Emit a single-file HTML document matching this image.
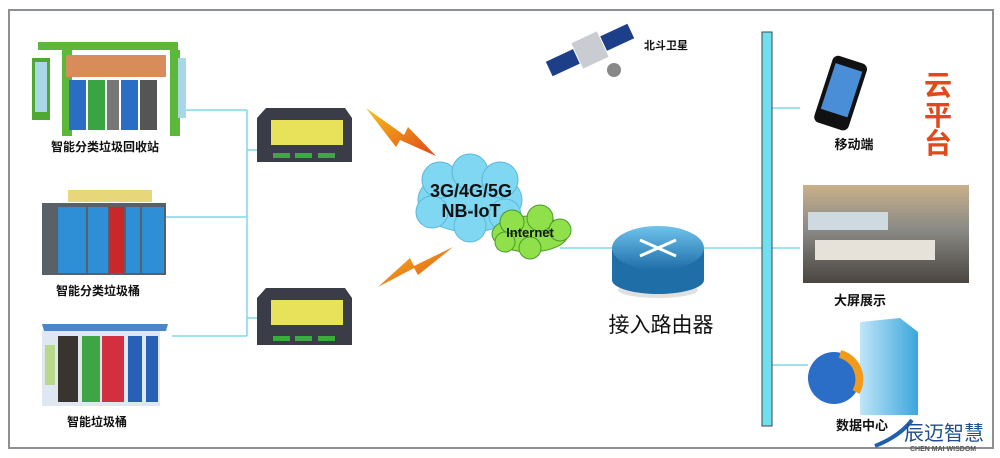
<!DOCTYPE html>
<html><head><meta charset="utf-8"><style>
html,body{margin:0;padding:0;background:#fff;width:1000px;height:458px;overflow:hidden}
svg{display:block}
text{font-family:"Liberation Sans","Noto Sans CJK SC",sans-serif}
</style></head><body>
<svg width="1000" height="458" viewBox="0 0 1000 458" xmlns="http://www.w3.org/2000/svg">
<defs>
<linearGradient id="bolt" x1="0" y1="0" x2="1" y2="1"><stop offset="0" stop-color="#f7c21a"/><stop offset="1" stop-color="#e0461a"/></linearGradient>
<linearGradient id="rt" x1="0" y1="0" x2="0" y2="1"><stop offset="0" stop-color="#6fc3ec"/><stop offset="1" stop-color="#1f6ea8"/></linearGradient>
<linearGradient id="room" x1="0" y1="0" x2="0" y2="1"><stop offset="0" stop-color="#c9b08a"/><stop offset="0.45" stop-color="#8a8a86"/><stop offset="1" stop-color="#4a4540"/></linearGradient>
<linearGradient id="srv" x1="0" y1="0" x2="1" y2="0"><stop offset="0" stop-color="#bfe6f8"/><stop offset="1" stop-color="#3aa6dc"/></linearGradient>
</defs>
<rect x="9" y="10" width="984" height="438" fill="#fff" stroke="#8c9094" stroke-width="2"/>

<!-- left connectors -->
<g stroke="#7fd8ee" stroke-width="1.5" fill="none">
<path d="M247 110 V336"/><path d="M183 110 H247"/><path d="M165 217 H247"/><path d="M172 336 H247"/>
<path d="M247 150 H257"/><path d="M247 318 H257"/>
</g>

<!-- station -->
<rect x="38" y="42" width="140" height="8" fill="#5cb83a"/>
<rect x="32" y="58" width="18" height="62" fill="#4ea832"/><rect x="35" y="62" width="12" height="50" fill="#a9d7e8"/>
<rect x="62" y="50" width="10" height="86" fill="#5cb83a"/><rect x="170" y="50" width="10" height="86" fill="#5cb83a"/>
<rect x="66" y="55" width="100" height="22" fill="#d88c5a"/><rect x="178" y="58" width="8" height="60" fill="#a9d7e8"/>
<rect x="69" y="80" width="17" height="50" fill="#2b6cc4"/><rect x="88" y="80" width="17" height="50" fill="#3aa442"/>
<rect x="107" y="80" width="12" height="50" fill="#777"/><rect x="121" y="80" width="17" height="50" fill="#2b6cc4"/>
<rect x="140" y="80" width="17" height="50" fill="#555"/>
<text x="105" y="151" font-size="12" font-weight="bold" text-anchor="middle" fill="#111">智能分类垃圾回收站</text>

<!-- smart bin -->
<rect x="68" y="190" width="84" height="12" fill="#e8d67a"/>
<rect x="42" y="203" width="124" height="72" fill="#5a6068"/>
<rect x="58" y="207" width="28" height="66" fill="#2f8fd6"/><rect x="88" y="207" width="20" height="66" fill="#2f8fd6"/>
<rect x="109" y="207" width="15" height="66" fill="#c8282a"/><rect x="126" y="207" width="14" height="66" fill="#2f8fd6"/>
<rect x="142" y="207" width="22" height="66" fill="#2f8fd6"/>
<text x="98" y="295" font-size="12" font-weight="bold" text-anchor="middle" fill="#111">智能分类垃圾桶</text>

<!-- smart trash -->
<path d="M42 324 L168 324 L166 331 L44 331Z" fill="#4a86c8"/>
<rect x="42" y="331" width="118" height="75" fill="#dfe8f0"/>
<rect x="58" y="336" width="20" height="66" fill="#3a3430"/><rect x="82" y="336" width="18" height="66" fill="#3ea444"/>
<rect x="102" y="336" width="22" height="66" fill="#d23040"/><rect x="128" y="336" width="14" height="66" fill="#2a5fb8"/>
<rect x="146" y="336" width="12" height="66" fill="#2a5fb8"/><rect x="45" y="345" width="10" height="40" fill="#b8d88a"/>
<text x="97" y="426" font-size="12" font-weight="bold" text-anchor="middle" fill="#111">智能垃圾桶</text>

<!-- devices -->
<g>
<path d="M266 108 L345 108 L352 118 L352 162 L257 162 L257 118Z" fill="#3a3d48"/>
<rect x="271" y="120" width="72" height="25" fill="#e8e25a"/>
<rect x="273" y="153" width="17" height="5" fill="#3caa40"/><rect x="295" y="153" width="17" height="5" fill="#3caa40"/><rect x="318" y="153" width="17" height="5" fill="#3caa40"/>
</g>
<g>
<path d="M266 288 L345 288 L352 298 L352 345 L257 345 L257 298Z" fill="#3a3d48"/>
<rect x="271" y="300" width="72" height="25" fill="#e8e25a"/>
<rect x="273" y="336" width="17" height="5" fill="#3caa40"/><rect x="295" y="336" width="17" height="5" fill="#3caa40"/><rect x="318" y="336" width="17" height="5" fill="#3caa40"/>
</g>

<!-- bolts -->
<path d="M366 108 L404 135 L408 127 L436 156 L400 140 L396 147Z" fill="url(#bolt)"/>
<path d="M378 287 L410 258 L414 266 L453 247 L418 275 L414 268Z" fill="url(#bolt)"/>

<!-- clouds -->
<g fill="#7fd7f2" stroke="#5ab8dc" stroke-width="1">
<ellipse cx="470" cy="200" rx="52" ry="32"/>
<circle cx="440" cy="180" r="18"/><circle cx="470" cy="172" r="18"/><circle cx="500" cy="180" r="18"/>
<circle cx="432" cy="212" r="16"/><circle cx="470" cy="226" r="16"/><circle cx="505" cy="215" r="16"/>
</g>
<g fill="#8fe04a" stroke="#4a9a2a" stroke-width="1">
<ellipse cx="530" cy="234" rx="38" ry="18"/>
<circle cx="512" cy="222" r="12"/><circle cx="540" cy="218" r="13"/><circle cx="560" cy="230" r="11"/>
<circle cx="530" cy="248" r="11"/><circle cx="505" cy="242" r="10"/>
</g>
<text x="471" y="197" font-size="18" font-weight="bold" text-anchor="middle" fill="#111">3G/4G/5G</text>
<text x="471" y="217" font-size="18" font-weight="bold" text-anchor="middle" fill="#111">NB-IoT</text>
<text x="530" y="237" font-size="13" font-weight="bold" text-anchor="middle" fill="#111">Internet</text>

<!-- router line -->
<g stroke="#7fd8ee" stroke-width="1.5" fill="none">
<path d="M560 248 H612"/><path d="M704 248 H762"/>
<path d="M772 108 H800"/><path d="M772 248 H800"/><path d="M772 365 H808"/>
</g>
<ellipse cx="658" cy="290" rx="40" ry="8" fill="#ccc" opacity="0.6"/>
<path d="M612 248 L612 280 A46 14 0 0 0 704 280 L704 248Z" fill="#1f6ea8"/>
<ellipse cx="658" cy="248" rx="46" ry="22" fill="url(#rt)"/>
<g stroke="#fff" stroke-width="3" fill="none">
<path d="M640 240 L676 256 M676 240 L640 256"/>
</g>
<text x="661" y="332" font-size="21" text-anchor="middle" fill="#111">接入路由器</text>

<!-- satellite -->
<g transform="rotate(-25 590 50)">
<rect x="545" y="42" width="30" height="16" fill="#1d3f8a"/>
<rect x="605" y="42" width="30" height="16" fill="#1d3f8a"/>
<rect x="576" y="36" width="28" height="28" fill="#c9ccd0"/>
</g>
<circle cx="614" cy="70" r="7" fill="#888"/>
<text x="644" y="49" font-size="11" font-weight="bold" fill="#111">北斗卫星</text>

<!-- bar -->
<rect x="762" y="32" width="10" height="394" fill="#6fe0f0" stroke="#444" stroke-width="1"/>

<!-- phone -->
<g transform="rotate(18 840 95)">
<rect x="822" y="58" width="36" height="70" rx="6" fill="#111"/>
<rect x="826" y="66" width="28" height="48" fill="#4a8ed8"/>
</g>
<text x="854" y="149" font-size="13" font-weight="bold" text-anchor="middle" fill="#111">移动端</text>
<text x="938" y="95" font-size="28" font-weight="bold" text-anchor="middle" fill="#e04a1a">云</text>
<text x="938" y="125" font-size="28" font-weight="bold" text-anchor="middle" fill="#e04a1a">平</text>
<text x="938" y="153" font-size="28" font-weight="bold" text-anchor="middle" fill="#e04a1a">台</text>

<!-- control room -->
<rect x="803" y="185" width="166" height="98" fill="url(#room)"/>
<rect x="808" y="212" width="80" height="18" fill="#cfd9e0"/>
<rect x="815" y="240" width="120" height="20" fill="#e6e2da"/>
<text x="860" y="305" font-size="13" font-weight="bold" text-anchor="middle" fill="#111">大屏展示</text>

<!-- data center -->
<path d="M860 322 L900 318 L918 332 L918 415 L860 415Z" fill="url(#srv)"/>
<circle cx="834" cy="378" r="26" fill="#2a6ec8"/>
<path d="M840 354 A26 26 0 0 1 856 392" stroke="#f39a1a" stroke-width="8" fill="none"/>
<text x="862" y="430" font-size="13" font-weight="bold" text-anchor="middle" fill="#111">数据中心</text>

<!-- logo -->
<path d="M875 446 Q900 436 912 420" stroke="#1f5fae" stroke-width="4" fill="none"/>
<text x="904" y="440" font-size="20" fill="#1f4f8e">辰迈智慧</text>
<text x="910" y="451" font-size="7" font-weight="bold" fill="#555">CHEN MAI WISDOM</text>
</svg>
</body></html>
